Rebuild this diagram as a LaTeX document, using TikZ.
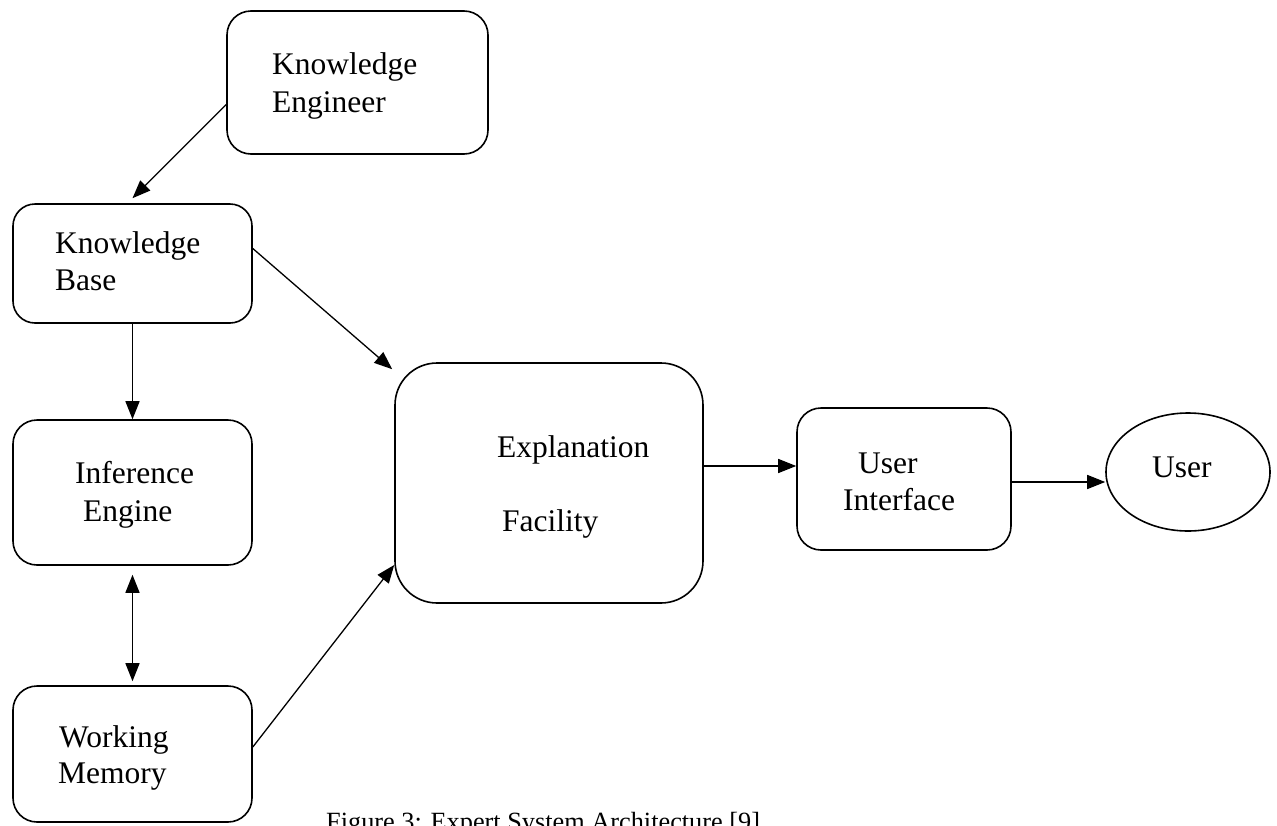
\documentclass[tikz,border=0pt]{standalone}
\usepackage{fontspec}
\setmainfont{Liberation Serif}
\usetikzlibrary{arrows.meta,shapes.geometric,calc}
\begin{document}
\begin{tikzpicture}[x=1pt,y=-1pt,
  box/.style={draw, line width=1.6pt, rounded corners=24pt, inner sep=0pt},
  lbl/.style={anchor=base west, inner sep=0pt, font=\fontsize{31.5}{36}\selectfont},
  tip/.style={Triangle[length=18pt,width=14pt]},
  arr/.style={-{Triangle[length=18pt,width=14pt]}, line width=1.3pt},
  biarr/.style={{Triangle[length=18pt,width=14pt]}-{Triangle[length=18pt,width=14pt]}, line width=1.3pt}]
  % page frame
  \clip (0,0) rectangle (1277,825);
  \fill[white] (0,0) rectangle (1277,825);

  % boxes
  \node[box, minimum width=261pt, minimum height=143pt] (ke) at (357.5,82.5) {};
  \node[box, minimum width=239pt, minimum height=119pt, rounded corners=22pt] (kb) at (132.5,263.5) {};
  \node[box, minimum width=239pt, minimum height=145pt] (ie) at (132.5,492.5) {};
  \node[box, minimum width=239pt, minimum height=136pt] (wm) at (132.5,754) {};
  \node[box, minimum width=308pt, minimum height=240pt, rounded corners=42pt] (ef) at (549,483) {};
  \node[box, minimum width=214pt, minimum height=142pt] (ui) at (904,479) {};
  \node[draw, line width=1.6pt, ellipse, inner sep=0pt, minimum width=164pt, minimum height=118pt] (user) at (1188,472) {};

  % labels
  \node[lbl] (ke1) at (272,74) {Knowledge};
  \node[lbl] (ke2) at (272,112) {Engineer};
  \node[lbl] (kb1) at (55,253) {Knowledge};
  \node[lbl] (kb2) at (55,290) {Base};
  \node[lbl] (ie1) at (75,483) {Inference};
  \node[lbl] (ie2) at (83,521) {Engine};
  \node[lbl] (wm1) at (59,747) {Working};
  \node[lbl] (wm2) at (58,783) {Memory};
  \node[lbl] (ef1) at (497,457) {Explanation};
  \node[lbl] (ef2) at (502,531) {Facility};
  \node[lbl] (ui1) at (858,473) {User};
  \node[lbl] (ui2) at (843,510) {Interface};
  \node[lbl] (us1) at (1152,477) {User};

  % caption, running off the lower edge of the page
  \node[anchor=base west, inner sep=0pt, font=\fontsize{26.3}{30}\selectfont] (cap) at (326,830)
    {Figure 3: Expert System Architecture [9]};

  % connectors
  \draw[arr] ([yshift=-22pt]ke.west) -- ([yshift=5pt]kb.north);
  \draw[arr] ([yshift=15pt]kb.east) -- ([xshift=-2pt,yshift=-7pt]ef.north west);
  \draw[arr] (kb.south) -- (ie.north);
  \draw[biarr, shorten <=9pt, shorten >=4pt] (ie.south) -- (wm.north);
  \draw[arr] ([yshift=7pt]wm.east) -- ([yshift=-82pt]ef.west);
  \draw[arr] ([yshift=17pt]ef.east) -- ([yshift=17pt]ef.east -| ui.west);
  \draw[arr] ([yshift=-3pt]ui.east) -- ([yshift=-3pt]ui.east -| user.west);
\end{tikzpicture}
\end{document}
